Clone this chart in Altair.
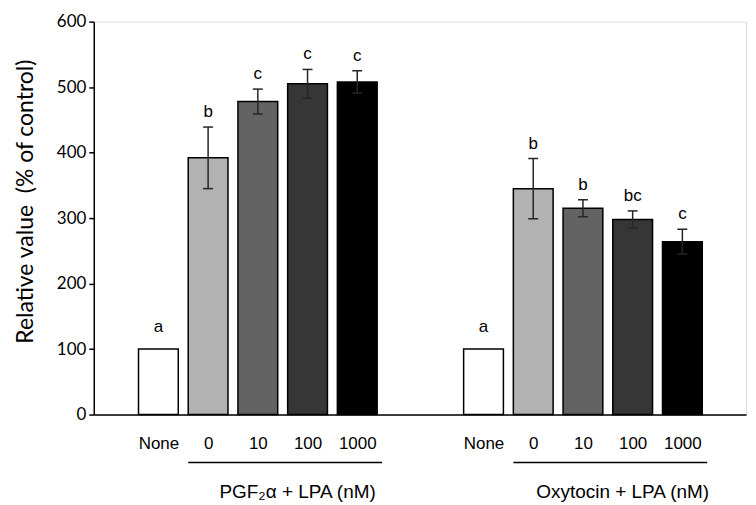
import json
import altair as alt
import pandas as pd

# ---- data ----
group_titles = ["PGF\u2082\u03b1 + LPA (nM)", "Oxytocin + LPA (nM)"]
doses = ["None", "0", "10", "100", "1000"]
pgf_means = [100, 392, 478, 505, 508]
pgf_errs = [0, 47, 19, 22, 17]
pgf_letters = ["a", "b", "c", "c", "c"]
oxy_means = [100, 345, 315, 298, 264]
oxy_errs = [0, 46, 13, 13, 19]
oxy_letters = ["a", "b", "b", "bc", "c"]
fills = ["#ffffff", "#b2b2b2", "#636363", "#363636", "#000000"]
y_ticks = [0, 100, 200, 300, 400, 500, 600]

# ---- layout constants (slot units) ----
FIRST = 1.3
GROUP_STEP = 6.54
DOMAIN_MAX = 13.12
HALF_BAR = 0.4
HALF_CAP = 0.1
TITLE_SHIFT = 2.8
W, H = 654, 394

rows = []
for g, (means, errs, letters) in enumerate(
    [(pgf_means, pgf_errs, pgf_letters), (oxy_means, oxy_errs, oxy_letters)]
):
    for i, d in enumerate(doses):
        pos = round(FIRST + g * GROUP_STEP + i, 2)
        rows.append(
            dict(group=group_titles[g], dose=d, idx=i, pos=pos,
                 mean=means[i], err=errs[i], letter=letters[i], fill=fills[i])
        )
df = pd.DataFrame(rows)

positions = [r["pos"] for r in rows]
labels = [r["dose"] for r in rows]
label_expr = f"{json.dumps(labels)}[indexof({json.dumps(positions)}, datum.value)]"

xscale = alt.Scale(domain=[0, DOMAIN_MAX], nice=False, zero=False)
yscale = alt.Scale(domain=[0, 600], nice=False)

base = alt.Chart(df).transform_calculate(
    x0=f"datum.pos - {HALF_BAR}",
    x1=f"datum.pos + {HALF_BAR}",
    c0=f"datum.pos - {HALF_CAP}",
    c1=f"datum.pos + {HALF_CAP}",
    lo="datum.mean - datum.err",
    hi="datum.mean + datum.err",
)

bars = base.mark_bar(stroke="black", strokeWidth=1.5).encode(
    x=alt.X("x0:Q", scale=xscale,
            axis=alt.Axis(values=positions, labelExpr=label_expr, title=None,
                          ticks=False, grid=False, domainColor="black",
                          domainWidth=1.5, labelFontSize=17,
                          labelFont="Liberation Sans", labelColor="black",
                          labelPadding=21, labelFlush=False, labelOverlap=False)),
    x2="x1:Q",
    y=alt.Y("mean:Q", scale=yscale,
            axis=alt.Axis(values=y_ticks, title="Relative value\u00a0 (% of control)",
                          titleFontSize=23, titleFontWeight="normal", titleFont="Lato",
                          titleColor="black", titleX=-68, titleY=180,
                          titleAngle=-90, titleAlign="center", titleBaseline="middle",
                          labelFont="Lato", labelFontSize=17, labelColor="black",
                          labelPadding=3, tickSize=5, tickColor="black",
                          tickWidth=1.5, domainColor="black", domainWidth=1.5,
                          grid=False)),
    y2=alt.datum(0),
    fill=alt.Fill("fill:N", scale=None),
)

err_data = base.transform_filter("datum.err > 0")
err_v = err_data.mark_rule(color="#262626", strokeWidth=1.5).encode(
    x="pos:Q", y="lo:Q", y2="hi:Q"
)
cap_hi = err_data.mark_rule(color="#262626", strokeWidth=1.5).encode(
    x="c0:Q", x2="c1:Q", y="hi:Q"
)
cap_lo = err_data.mark_rule(color="#262626", strokeWidth=1.5).encode(
    x="c0:Q", x2="c1:Q", y="lo:Q"
)

letters_err = err_data.mark_text(
    fontSize=17, font="Liberation Sans", color="black", baseline="alphabetic", dy=-10
).encode(x="pos:Q", y="hi:Q", text="letter:N")
letters_none = base.transform_filter("datum.err == 0").mark_text(
    fontSize=17, font="Liberation Sans", color="black", baseline="alphabetic", dy=-17
).encode(x="pos:Q", y="hi:Q", text="letter:N")

# group underline and titles
gdf = pd.DataFrame(
    [
        dict(title=t,
             start=round(FIRST + g * GROUP_STEP + 1 - HALF_BAR, 2),
             end=round(FIRST + g * GROUP_STEP + len(doses) - 1 + HALF_BAR + 0.1, 2),
             mid=round(FIRST + g * GROUP_STEP + TITLE_SHIFT, 2))
        for g, t in enumerate(group_titles)
    ]
)
gbase = alt.Chart(gdf)
underline = gbase.mark_rule(color="black", strokeWidth=1.5).encode(
    x=alt.X("start:Q", scale=xscale), x2="end:Q", y=alt.value(H + 48)
)
gtitles = gbase.mark_text(
    fontSize=19, font="Liberation Sans", color="black", baseline="middle"
).encode(x=alt.X("mid:Q", scale=xscale), y=alt.value(H + 78), text="title:N")

chart = alt.layer(
    bars, err_v, cap_hi, cap_lo, letters_err, letters_none, underline, gtitles
).properties(
    width=W, height=H,
    autosize=alt.AutoSizeParams(type="none"),
    padding={"left": 86, "top": 13, "right": 2, "bottom": 88},
).configure_view(stroke=None).configure(background="white")

chart.save("out.html", embed_options={"renderer": "svg", "actions": False})
